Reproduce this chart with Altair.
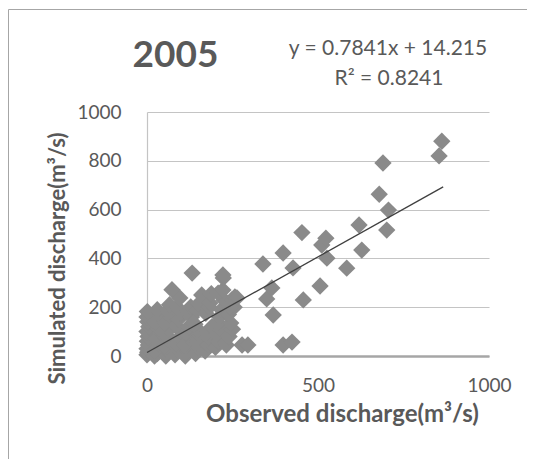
import altair as alt
import pandas as pd

# Observed / simulated discharge (m3/s)
obs = [
    # along the y-axis
    0, 2, 0, 4, 1, 3, 0, 5, 2, 0, 1,
    22, 30, 25, 35, 28, 40, 32, 24, 38, 30,
    55, 62, 50, 68, 58, 64, 52, 70, 60, 66, 73,
    82, 90, 86, 95, 100, 84, 92, 98, 88, 96,
    112, 118, 110, 125, 115, 122, 130, 120, 128, 132,
    142, 150, 145, 155, 148, 140, 146, 152, 160,
    170, 178, 185, 175, 190, 172, 182, 184, 188,
    200, 210, 205, 215, 208, 212, 218, 225, 208, 222, 223, 222,
    232, 240, 250, 245, 238, 255, 248, 257, 263, 243,
    # sparse points
    278, 295, 398, 424, 369, 350, 365, 339, 427, 398,
    457, 453, 506, 511, 523, 526, 584, 620, 628, 679,
    690, 706, 701, 854, 862,
]
sim = [
    5, 15, 30, 45, 60, 80, 100, 120, 140, 160, 182,
    0, 10, 25, 50, 70, 95, 115, 140, 165, 190,
    0, 20, 40, 60, 85, 110, 135, 160, 185, 210, 272,
    5, 25, 50, 75, 100, 125, 150, 175, 200, 238,
    0, 20, 45, 70, 95, 120, 160, 185, 201, 340,
    10, 35, 60, 85, 110, 130, 189, 215, 250,
    20, 45, 70, 95, 120, 175, 200, 217, 255,
    35, 60, 90, 110, 135, 160, 190, 230, 258, 270, 320, 332,
    45, 80, 110, 135, 170, 200, 230, 242, 238, 201,
    # sparse points
    45, 45, 45, 57, 168, 234, 279, 377, 361, 422,
    230, 506, 287, 455, 483, 401, 360, 537, 434, 663,
    791, 598, 516, 820, 880,
]

slope = 0.7841
intercept = 14.215
trend_x = [0, 866]
trend_y = [slope * v + intercept for v in trend_x]

title_text = ["2005"]
eq_lines = ["y = 0.7841x + 14.215", "R² = 0.8241"]

df = pd.DataFrame({"obs": obs, "sim": sim})
tdf = pd.DataFrame({"obs": trend_x, "sim": trend_y})

FONT = "Lato"
TXT = "#595959"

xscale = alt.Scale(domain=[0, 1000], nice=False)
yscale = alt.Scale(domain=[0, 1000], nice=False)

xaxis = alt.Axis(
    values=[0, 500, 1000], format="d", grid=False, ticks=False,
    labelFlush=False, labelOverlap=False,
    domainColor="#a6a6a6", domainWidth=2.5,
    labelFont=FONT, labelFontSize=19, labelColor=TXT, labelPadding=20,
    title="Observed discharge(m³/s)", titleFont=FONT, titleFontSize=24,
    titleFontWeight="bold", titleColor=TXT,
    titleX=195, titleY=65, titleBaseline="alphabetic", titleAlign="center",
)
yaxis = alt.Axis(
    values=[0, 200, 400, 600, 800, 1000], format="d", grid=True, gridColor="#c4c4c4",
    gridWidth=1.2, ticks=False, domainColor="#c4c4c4", domainWidth=1.2,
    labelFlush=False, labelOverlap=False,
    labelFont=FONT, labelFontSize=19, labelColor=TXT, labelPadding=26,
    title="Simulated discharge(m³/s)", titleFont=FONT, titleFontSize=22,
    titleFontWeight="bold", titleColor=TXT,
    titleX=-83, titleY=146, titleBaseline="alphabetic", titleAlign="center",
    titleAngle=270,
)

points = alt.Chart(df).mark_point(
    shape="diamond", filled=True, size=300, color="#8a8a8a", opacity=1
).encode(
    x=alt.X("obs:Q", scale=xscale, axis=xaxis),
    y=alt.Y("sim:Q", scale=yscale, axis=yaxis),
)

trend = alt.Chart(tdf).mark_line(color="#404040", strokeWidth=1.3).encode(
    x=alt.X("obs:Q", scale=xscale),
    y=alt.Y("sim:Q", scale=yscale),
)

title = alt.Chart(pd.DataFrame({"t": title_text})).mark_text(
    font=FONT, fontSize=37, fontWeight="bold", color=TXT, align="center",
    baseline="alphabetic"
).encode(text="t:N", x=alt.value(28.5), y=alt.value(-45))

eq1 = alt.Chart(pd.DataFrame({"t": [eq_lines[0]]})).mark_text(
    font=FONT, fontSize=21, color=TXT, align="center", baseline="alphabetic"
).encode(text="t:N", x=alt.value(241), y=alt.value(-57))

eq2 = alt.Chart(pd.DataFrame({"t": [eq_lines[1]]})).mark_text(
    font=FONT, fontSize=21, color=TXT, align="center", baseline="alphabetic"
).encode(text="t:N", x=alt.value(242), y=alt.value(-27))

frame = alt.Chart(pd.DataFrame({"a": [0]})).mark_rect(
    fill="transparent", stroke="#a6a6a6", strokeWidth=1
).encode(x=alt.value(-138.5), y=alt.value(-102.5), x2=alt.value(600), y2=alt.value(600))

chart = alt.layer(frame, points, trend, title, eq1, eq2).properties(
    width=342, height=244,
    autosize=alt.AutoSizeParams(type="none"),
    padding={"left": 139, "top": 104, "right": 38, "bottom": 103},
).configure_view(strokeWidth=0)

chart.save("out.html", embed_options={"renderer": "svg", "actions": False})
